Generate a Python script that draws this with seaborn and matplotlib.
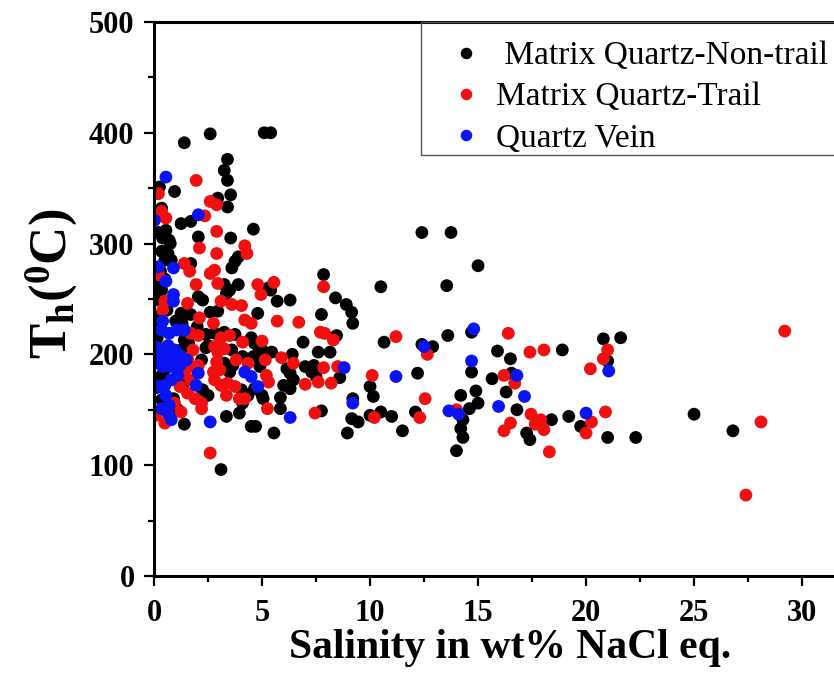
import numpy as np
import pandas as pd
import matplotlib
matplotlib.use("Agg")
import matplotlib.pyplot as plt
import seaborn as sns
from matplotlib.ticker import MultipleLocator
from matplotlib.patches import Rectangle

# Salinity (wt% NaCl eq.) and homogenisation temperature (deg C) per inclusion group
nontrail_sal = [25.0, 26.8, 20.8, 21.6, 21.0, 21.0, 22.3,
                12.4, 13.75, 15.0, 10.5, 13.55, 10.65, 12.4, 12.9, 13.6, 14.7, 14.7, 15.9, 16.5,
                18.9, 12.2, 10.0, 10.15, 15.65, 16.55, 14.9, 14.2, 15.0, 14.6, 14.3, 14.2, 14.3,
                14.0, 12.1, 10.5, 10.0, 11.0, 11.5, 16.3, 16.8, 18.4, 17.25, 17.4, 19.2, 19.75,
                5.1, 5.4, 4.6, 7.85, 5.3, 5.4, 5.7, 6.3, 8.4, 8.9, 9.15, 9.2, 4.8, 7.75, 8.45,
                6.9, 4.85, 5.45, 6.4, 6.15, 7.0, 7.4, 7.6, 8.15, 7.3, 7.5, 8.6, 4.9, 6.0, 6.3,
                5.05, 5.85, 5.85, 5.0, 7.75, 9.2, 9.15, 9.45, 8.95, 5.55, 4.7, 6.45, 6.3,
                2.6, 1.4, 3.4, 3.25, 3.4, 0.25, 0.95, 3.55, 2.95, 3.4, 0.35, 1.25, 1.7, 0.55,
                0.4, 0.7, 2.05, 3.55, 3.9, 3.75, 3.6, 0.35, 0.65, 0.5, 0.8, 1.7, 3.25, 3.9,
                0.35, 0.05, 2.05, 2.25, 3.35, 3.5, 2.6, 2.95, 1.25, 1.7, 0.05, 0.05, 2.4, 2.8,
                3.25, 3.75, 4.5, 4.65, 5.0, 2.5, 3.6, 4.1, 4.6, 2.2, 2.4, 1.25, 1.4, 3.25,
                3.65, 3.5, 4.8, 1.4, 2.25, 2.5, 4.05, 4.35, 4.65, 0.35, 1.4, 3.35, 4.5, 3.95,
                4.1, 3.1, 0.15, 0.3, 0.1, 0.6, 1.0, 0.2, 0.9, 1.1, 0.5, 0.15, 0.3, 0.75, 0.2,
                1.3, 1.6, 0.45, 2.0]
nontrail_th = [146, 131, 214, 215, 194, 125, 125,
               310, 310, 280, 261, 262, 211, 209, 207, 217, 220, 184, 203, 196,
               204, 183, 171, 162, 178, 183, 167, 163, 156, 151, 141, 133, 125,
               113, 148, 148, 145, 144, 131, 166, 150, 141, 129, 123, 144, 135,
               400, 400, 313, 272, 260, 258, 248, 249, 251, 245, 238, 228, 237, 236, 217,
               211, 202, 202, 200, 187, 189, 190, 202, 202, 184, 180, 179, 189, 172, 169,
               160, 161, 151, 163, 149, 160, 142, 139, 129, 129, 135, 177, 183,
               399, 391, 376, 366, 357, 351, 347, 344, 341, 333, 332, 318, 320, 312,
               305, 303, 306, 305, 288, 284, 278, 293, 291, 285, 285, 282, 263, 263,
               258, 249, 252, 249, 255, 258, 238, 239, 237, 236, 234, 225, 218, 219,
               220, 218, 215, 210, 204, 208, 204, 198, 198, 195, 206, 204, 213, 192,
               190, 184, 198, 175, 168, 163, 168, 163, 169, 159, 137, 144, 135, 147,
               156, 96, 215, 180, 170, 240, 230, 195, 160, 150, 268, 262, 275, 300, 310,
               228, 210, 185, 225]

trail_sal = [29.2, 28.1, 27.4, 21.0, 20.8, 20.9, 11.2, 12.65, 16.4, 17.4, 18.05, 20.2,
             10.1, 16.2, 16.7, 12.55, 12.3, 10.2, 14.0, 17.45, 16.5, 16.2, 17.65, 17.9,
             18.05, 18.3, 20.25, 20.0,
             4.8, 5.55, 4.95, 7.85, 5.7, 6.7, 7.7, 7.9, 8.3, 5.0, 5.15, 5.9, 6.45, 7.85,
             8.5, 5.2, 5.3, 7.0, 7.6, 8.2, 5.25, 7.45,
             1.95, 0.2, 2.6, 2.9, 0.35, 0.55, 2.35, 2.9, 2.1, 2.9, 4.2, 4.3, 1.4, 1.65,
             2.6, 2.8, 2.95, 1.95, 0.2, 0.5, 0.4, 1.55, 3.1, 3.6, 4.05, 2.1, 2.75, 4.2,
             4.5, 1.7, 2.05, 3.1, 3.5, 4.1, 2.8, 2.95, 3.25, 1.55, 1.8, 1.7, 2.05, 2.9,
             3.05, 2.75, 3.8, 4.35, 2.8, 3.1, 3.4, 3.75, 1.4, 1.7, 1.2, 1.55, 1.9, 2.2,
             2.2, 3.35, 3.95, 0.1, 0.5, 0.95, 1.25, 4.2, 2.6]
trail_th = [221, 139, 73, 204, 196, 148, 216, 200, 219, 202, 204, 187,
            181, 181, 174, 160, 143, 143, 150, 146, 138, 131, 137, 141,
            132, 112, 139, 129,
            263, 265, 254, 261, 230, 229, 220, 219, 213, 212, 195, 197, 192, 188,
            189, 181, 175, 173, 175, 174, 151, 147,
            357, 345, 338, 335, 329, 323, 325, 311, 296, 291, 298, 291, 282, 275,
            273, 276, 264, 263, 272, 248, 240, 246, 248, 245, 244, 233, 228, 231,
            228, 219, 217, 215, 217, 211, 207, 202, 205, 196, 204, 189, 190, 193,
            186, 184, 195, 192, 177, 172, 174, 171, 183, 177, 171, 165, 160, 156,
            151, 163, 160, 145, 138, 156, 148, 160, 111]

vein_sal = [21.05, 12.5, 14.8, 14.7, 11.2, 16.8, 13.65, 14.1, 15.95, 17.15, 20.0,
            8.8, 4.8, 6.3, 9.2,
            0.55, 2.05, 0.02, 0.2, 0.9, 0.55, 0.9, 0.9, 0.4, 0.35, 0.7, 1.05, 1.4, 0.05,
            0.35, 0.65, 0.95, 0.25, 0.55, 0.9, 1.2, 0.05, 0.4, 0.8, 1.2, 1.5, 2.05, 1.95,
            4.2, 4.5, 0.2, 0.5, 0.8, 1.1, 0.55, 0.7, 0.35, 0.65, 0.8, 2.6]
vein_th = [185, 207, 223, 194, 180, 181, 149, 146, 153, 162, 147,
           188, 171, 143, 156,
           360, 326, 321, 279, 278, 266, 254, 248, 230, 222, 219, 222, 222, 207,
           205, 208, 204, 199, 198, 196, 199, 192, 189, 189, 190, 195, 183, 172,
           184, 180, 171, 172, 177, 181, 163, 154, 151, 147, 141, 139]

group_names = [" Matrix Quartz-Non-trail", "Matrix Quartz-Trail", "Quartz Vein"]
group_colors = ["#000000", "#f01010", "#0a14f0"]

frames = []
for name, sal, th in zip(group_names,
                         [nontrail_sal, trail_sal, vein_sal],
                         [nontrail_th, trail_th, vein_th]):
    frames.append(pd.DataFrame({"salinity": sal, "th": th, "group": name}))
df = pd.concat(frames, ignore_index=True)

sns.set_style("ticks")
plt.rcParams["font.family"] = ["Liberation Serif", "DejaVu Serif"]
plt.rcParams["mathtext.fontset"] = "custom"
plt.rcParams["mathtext.rm"] = "Liberation Serif:bold"
plt.rcParams["mathtext.it"] = "Liberation Serif:bold"
plt.rcParams["mathtext.bf"] = "Liberation Serif:bold"
for key in ["text.color", "axes.labelcolor", "xtick.color", "ytick.color",
            "xtick.labelcolor", "ytick.labelcolor"]:
    plt.rcParams[key] = "black"

W, H = 834, 676
fig = plt.figure(figsize=(W / 100, H / 100), dpi=100)
ax = fig.add_axes([0.1847, 0.148, 0.8547, 0.8195])

sns.scatterplot(data=df, x="salinity", y="th", hue="group",
                hue_order=group_names, palette=dict(zip(group_names, group_colors)),
                s=85, linewidth=0, alpha=1.0, ax=ax, legend=True)

ax.set_xlim(0, 33)
ax.set_ylim(0, 500)
ax.xaxis.set_major_locator(MultipleLocator(5))
ax.xaxis.set_minor_locator(MultipleLocator(2.5))
ax.yaxis.set_major_locator(MultipleLocator(100))
ax.yaxis.set_minor_locator(MultipleLocator(50))
ax.tick_params(which="major", direction="out", length=7.5, width=1.6,
               labelsize=22, pad=6.5, color="black", labelcolor="black")
ax.tick_params(axis="x", which="major", pad=9)
ax.tick_params(which="minor", direction="out", length=4.5, width=1.6, color="black")
for lab in ax.get_xticklabels() + ax.get_yticklabels():
    lab.set_fontweight("bold")
for side in ["left", "bottom", "top", "right"]:
    ax.spines[side].set_linewidth(2.2)
    ax.spines[side].set_color("black")

ax.set_xlabel("Salinity in wt% NaCl eq.", fontsize=30, fontweight="bold", labelpad=1)
ax.set_ylabel(r"T$_\mathrm{h}$($^\mathrm{0}$C)", fontsize=38, fontweight="bold")
ax.yaxis.set_label_coords(-0.104, 0.527)

# legend entries without their own frame; the box is drawn separately
handles, labels = ax.get_legend_handles_labels()
leg = ax.legend(handles, labels, loc="upper left",
                bbox_to_anchor=(432.7 / W, 1 - 40.7 / H), bbox_transform=fig.transFigure,
                borderaxespad=0, frameon=False, fontsize=24,
                markerscale=0.9, handletextpad=-0.1, labelspacing=0.32,
                borderpad=0, handlelength=2.0)
fig.patches.append(Rectangle((421 / W, 1 - 155 / H), (845 - 421) / W, (155 - 22) / H,
                             transform=fig.transFigure, fill=False,
                             edgecolor="#555555", linewidth=1.0, zorder=5))

fig.savefig("out.png", dpi=100)
